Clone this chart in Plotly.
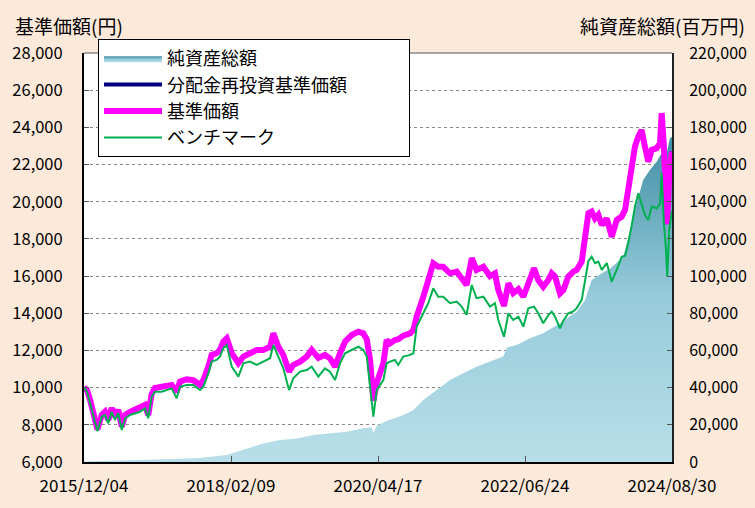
import plotly.graph_objects as go

# ---------------- data ----------------
nav_dates = [
    "2015-12-04", "2015-12-20", "2016-01-06", "2016-02-02", "2016-02-15", "2016-03-09",
    "2016-03-27", "2016-04-14", "2016-05-02", "2016-05-20", "2016-06-07", "2016-06-26",
    "2016-07-14", "2016-08-10", "2016-09-06", "2016-10-03", "2016-10-30", "2016-11-17",
    "2016-12-05", "2016-12-23", "2017-01-29", "2017-02-25", "2017-03-24", "2017-04-20",
    "2017-05-08", "2017-06-13", "2017-07-19", "2017-08-25", "2017-09-12", "2017-10-09",
    "2017-10-27", "2017-11-23", "2017-12-11", "2017-12-29", "2018-01-17", "2018-02-13",
    "2018-03-21", "2018-04-17", "2018-05-23", "2018-06-29", "2018-08-03", "2018-09-09",
    "2018-09-27", "2018-10-24", "2018-11-20", "2018-12-21", "2019-01-13", "2019-02-19",
    "2019-03-27", "2019-04-23", "2019-05-29", "2019-07-04", "2019-07-31", "2019-08-28",
    "2019-09-24", "2019-10-21", "2019-11-26", "2020-01-01", "2020-01-28", "2020-02-16",
    "2020-03-05", "2020-03-23", "2020-04-10", "2020-05-16", "2020-06-03", "2020-06-21",
    "2020-07-18", "2020-08-05", "2020-09-01", "2020-10-08", "2020-10-26", "2020-11-13",
    "2020-12-19", "2021-01-15", "2021-02-11", "2021-03-10", "2021-04-06", "2021-05-13",
    "2021-06-18", "2021-07-15", "2021-08-11", "2021-09-08", "2021-10-04", "2021-11-10",
    "2021-12-16", "2022-01-12", "2022-01-30", "2022-03-02", "2022-03-26", "2022-04-21",
    "2022-05-19", "2022-06-15", "2022-07-12", "2022-08-12", "2022-09-04", "2022-10-01",
    "2022-10-29", "2022-11-16", "2022-12-04", "2022-12-31", "2023-01-18", "2023-02-14",
    "2023-03-13", "2023-03-31", "2023-04-28", "2023-05-16", "2023-06-03", "2023-06-21",
    "2023-07-09", "2023-07-27", "2023-08-15", "2023-09-11", "2023-10-08", "2023-11-04",
    "2023-12-01", "2023-12-19", "2024-01-06", "2024-01-24", "2024-02-11", "2024-02-29",
    "2024-03-18", "2024-04-05", "2024-04-23", "2024-05-12", "2024-06-08", "2024-06-26",
    "2024-07-05", "2024-07-17", "2024-07-28", "2024-08-04", "2024-08-15", "2024-08-30",
]

nav = [  # 基準価額 (円)
    10000, 9870, 9340, 8260, 7750, 8530,
    8700, 8260, 8900, 8440, 8800, 7900,
    8530, 8700, 8800, 8900, 9070, 8530,
    9650, 9980, 10050, 10140, 10140, 9780,
    10320, 10450, 10400, 10140, 10410, 11130,
    11760, 11850, 12030, 12470, 12650, 11860,
    11320, 11670, 11850, 12030, 12030, 12200,
    12920, 12200, 11760, 10860, 11220, 11400,
    11670, 12030, 11600, 11760, 11580, 11130,
    11850, 12470, 12830, 13010, 12920, 12600,
    11500, 9300, 10250, 11310, 12560, 12380,
    12560, 12600, 12800, 12920, 13100, 13820,
    14890, 15790, 16690, 16500, 16500, 16150,
    16240, 15880, 15520, 16960, 16330, 16500,
    16000, 16150, 15250, 14400, 15610, 15080,
    15300, 14890, 15610, 16420, 15790, 15430,
    15790, 16150, 15970, 15070, 15250, 15970,
    16240, 16330, 16780, 17950, 19380, 19470,
    19100, 19300, 18750, 19100, 18120, 19020,
    19200, 19560, 20630, 21890, 22970, 23500,
    23860, 22970, 22160, 22790, 22880, 23150,
    24770, 22970, 20630, 18800, 21530, 22700,
]

nav_reinvested = list(nav)  # 分配金再投資基準価額 (no distributions -> identical)

benchmark = [  # ベンチマーク
    10000, 9780, 9160, 8080, 7650, 8440,
    8530, 8080, 8700, 8260, 8620, 7720,
    8350, 8530, 8620, 8700, 8890, 8350,
    9510, 9780, 9780, 9870, 9960, 9430,
    10050, 10140, 10140, 9870, 10050, 10770,
    11400, 11490, 11670, 12120, 12290, 11130,
    10590, 11310, 11400, 11220, 11400, 11580,
    12290, 11670, 11040, 9870, 10500, 10860,
    10950, 11130, 10590, 11040, 10860, 10410,
    11310, 11850, 12030, 12200, 12030, 11670,
    10050, 8440, 9870, 10410, 11310, 11400,
    11490, 11220, 11670, 11760, 11850, 13280,
    14000, 14540, 15340, 14890, 14890, 14540,
    14630, 14360, 13910, 15520, 14810, 14890,
    14360, 14540, 13640, 12740, 14000, 13640,
    13820, 13280, 14270, 14360, 14000, 13460,
    13900, 14090, 13820, 13190, 13600, 14000,
    14100, 14270, 14720, 15790, 16800, 17040,
    16690, 16780, 16330, 16700, 15700, 16330,
    17040, 17100, 17800, 18700, 19740, 20460,
    19920, 19300, 19020, 19740, 19650, 19900,
    21530, 18840, 17500, 15970, 18500, 19500,
]

aum_dates = [
    "2015-12-04", "2016-11-08", "2017-08-07", "2018-01-17", "2018-03-12", "2018-05-05",
    "2018-08-03", "2018-11-02", "2019-02-01", "2019-05-02", "2019-07-31", "2019-10-30",
    "2020-01-28", "2020-03-14", "2020-03-23", "2020-04-10", "2020-06-03", "2020-09-01",
    "2020-10-26", "2020-12-19", "2021-03-02", "2021-05-13", "2021-07-24", "2021-10-04",
    "2021-12-16", "2022-02-26", "2022-03-17", "2022-05-10", "2022-07-21", "2022-10-01",
    "2022-12-31", "2023-03-31", "2023-05-16", "2023-06-21", "2023-08-15", "2023-09-28",
    "2023-12-10", "2024-01-15", "2024-02-20", "2024-03-27", "2024-05-02", "2024-06-08",
    "2024-07-14", "2024-07-28", "2024-08-19", "2024-08-30",
]

aum = [  # 純資産総額 (百万円)
    300, 1080, 2000, 3800, 5500, 7340,
    10000, 11800, 12700, 14500, 15400, 16300,
    18100, 18700, 15400, 19500, 22000, 25300,
    28000, 33400, 38700, 44100, 47700, 51300,
    54000, 56700, 61500, 63000, 66500, 69200,
    74600, 80800, 87100, 97900, 101500, 104000,
    110400, 124800, 139200, 151700, 157100, 161500,
    167800, 164200, 174100, 175000,
]

tick_dates = ["2015-12-04", "2018-02-09", "2020-04-17", "2022-06-24", "2024-08-30"]
tick_labels = ["2015/12/04", "2018/02/09", "2020/04/17", "2022/06/24", "2024/08/30"]

series_names = ["純資産総額", "分配金再投資基準価額", "基準価額", "ベンチマーク"]

FONT = "Noto Sans CJK JP"
BG = "#FDE9D9"
PAD = "\u00a0" * 14  # widens the legend box like the original

fig = go.Figure()

fig.add_trace(go.Scatter(
    x=aum_dates, y=aum, name=series_names[0], yaxis="y", mode="lines",
    line=dict(width=0, color="#7fbfd1"), fill="tozeroy",
    fillgradient=dict(type="vertical", start=0, stop=180000,
                      colorscale=[[0, "#b8dfe9"], [0.5, "#96cbda"], [1, "#3d8ba2"]]),
))
fig.add_trace(go.Scatter(
    x=nav_dates, y=nav_reinvested, name=series_names[1] + PAD, yaxis="y2", mode="lines",
    line=dict(width=4, color="#000080"),
))
fig.add_trace(go.Scatter(
    x=nav_dates, y=nav, name=series_names[2], yaxis="y2", mode="lines",
    line=dict(width=6, color="#FF00FF"),
))
fig.add_trace(go.Scatter(
    x=nav_dates, y=benchmark, name=series_names[3], yaxis="y2", mode="lines",
    line=dict(width=2, color="#00B050"),
))

fig.update_layout(
    width=755, height=508,
    margin=dict(l=84, r=83, t=53, b=46, autoexpand=False),
    paper_bgcolor=BG, plot_bgcolor="white",
    font=dict(family=FONT, size=17, color="black"),
    showlegend=True,
    legend=dict(x=98 / 755, y=1 - 39 / 508, xref="container", yref="container",
                xanchor="left", yanchor="top",
                bgcolor="white", bordercolor="black", borderwidth=1,
                font=dict(size=18, family=FONT), tracegroupgap=0,
                itemwidth=58),
    xaxis=dict(type="date", range=["2015-12-04", "2024-08-30"],
               tickvals=tick_dates, ticktext=tick_labels,
               ticks="inside", ticklen=6, tickcolor="#555",
               showgrid=False, showline=True, linecolor="black", linewidth=2,
               tickfont=dict(size=17), ticklabelstandoff=8, zeroline=False,
               automargin=False),
    yaxis=dict(side="right", range=[0, 220000], dtick=20000, tickformat=",d",
               ticks="inside", ticklen=5, tickcolor="#555",
               showgrid=True, gridcolor="#888", griddash="dot", gridwidth=1,
               showline=True, linecolor="#222", linewidth=2,
               tickfont=dict(size=16), ticklabelstandoff=12, zeroline=False,
               automargin=False),
    yaxis2=dict(overlaying="y", side="left", range=[6000, 28000], dtick=2000,
                tickformat=",d", ticks="inside", ticklen=5, tickcolor="#555",
                showgrid=False, showline=True, linecolor="black", linewidth=2,
                tickfont=dict(size=16.5), ticklabelstandoff=16, zeroline=False,
                automargin=False),
    shapes=[dict(type="line", xref="paper", yref="paper", x0=0, x1=1, y0=1, y1=1,
                 line=dict(color="#888", width=1.5))],
    annotations=[
        dict(text="基準価額(円)", xref="paper", yref="paper", x=-0.121, y=1.068,
             xanchor="left", yanchor="middle", showarrow=False, font=dict(size=19)),
        dict(text="純資産総額(百万円)", xref="paper", yref="paper", x=1.128, y=1.068,
             xanchor="right", yanchor="middle", showarrow=False, font=dict(size=19)),
    ],
)

fig.write_html(
    "out.html",
    config={"displayModeBar": False},
    post_script="document.body.style.margin='0';document.body.style.background='%s';" % BG,
)
